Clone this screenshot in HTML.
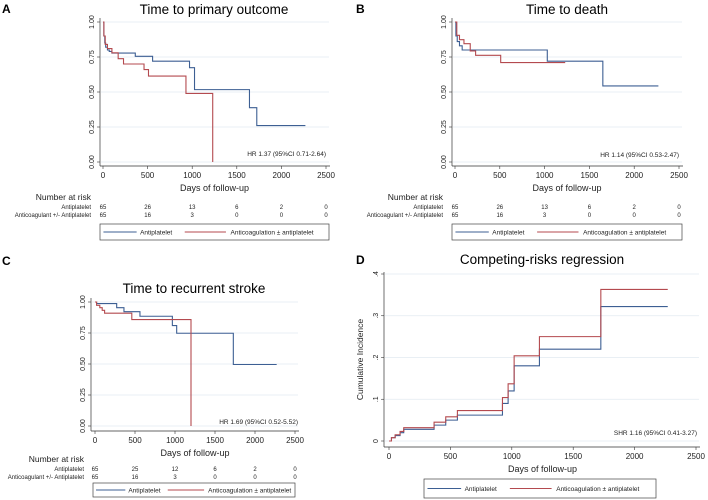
<!DOCTYPE html>
<html><head><meta charset="utf-8"><style>
html,body{margin:0;padding:0;background:#fff;}
svg{display:block;font-family:"Liberation Sans",Arial,sans-serif;}
</style></head><body>
<svg id="fig" width="708" height="500" viewBox="0 0 708 500"></svg>
<script>
// ---- Data ----
const xTicks = [0, 500, 1000, 1500, 2000, 2500];
const kmTicks = ["0.00", "0.25", "0.50", "0.75", "1.00"];
const kmTickVals = [0, 0.25, 0.5, 0.75, 1];
const ciTicks = ["0", ".1", ".2", ".3", ".4"];
const ciTickVals = [0, 0.1, 0.2, 0.3, 0.4];

const aBlueT = [0, 10, 20, 30, 50, 70, 100, 362, 556, 970, 1026, 1642, 1724];
const aBlueS = [1, 0.9, 0.85, 0.82, 0.8, 0.79, 0.778, 0.755, 0.72, 0.674, 0.517, 0.388, 0.26];
const aRedT = [0, 10, 25, 50, 100, 170, 230, 460, 510, 930, 1230];
const aRedS = [1, 0.9, 0.84, 0.81, 0.78, 0.738, 0.70, 0.66, 0.614, 0.49, 0];
const aRedEnd = 1230, aBlueEnd = 2269;

const bBlueT = [0, 10, 25, 50, 80, 1030, 1650];
const bBlueS = [1, 0.9, 0.86, 0.83, 0.8, 0.72, 0.543];
const bRedT = [0, 20, 50, 100, 170, 230, 510];
const bRedS = [1, 0.905, 0.874, 0.845, 0.793, 0.762, 0.71];
const bRedEnd = 1230, bBlueEnd = 2270;

const cBlueT = [0, 20, 271, 362, 562, 967, 1021, 1729];
const cBlueS = [1, 0.987, 0.954, 0.922, 0.885, 0.81, 0.748, 0.496];
const cRedT = [0, 20, 60, 90, 120, 460, 1200];
const cRedS = [1, 0.973, 0.954, 0.933, 0.91, 0.858, 0];
const cRedEnd = 1200, cBlueEnd = 2271;

const dBlueT = [0, 20, 50, 90, 120, 367, 462, 557, 924, 970, 1019, 1225, 1725];
const dBlueS = [0, 0.008, 0.013, 0.02, 0.028, 0.038, 0.05, 0.062, 0.09, 0.12, 0.18, 0.22, 0.322];
const dRedT = [0, 20, 50, 90, 120, 367, 462, 557, 924, 970, 1019, 1225, 1725];
const dRedS = [0, 0.008, 0.015, 0.023, 0.032, 0.045, 0.058, 0.073, 0.104, 0.137, 0.204, 0.25, 0.363];
const dEnd = 2270;

const riskA1 = ["65","26","13","6","2","0"], riskA2 = ["65","16","3","0","0","0"];
const riskC1 = ["65","25","12","6","2","0"], riskC2 = ["65","16","3","0","0","0"];

const BLUE = "#3d5f93", RED = "#b44a4f", GRID = "#e2eaf0", AX = "#333";
const svg = document.getElementById('fig');
const NS = "http://www.w3.org/2000/svg";
function mk(tag, attrs, parent, text) {
  const e = document.createElementNS(NS, tag);
  for (const k in attrs) e.setAttribute(k, attrs[k]);
  if (text !== undefined) e.textContent = text;
  (parent || svg).appendChild(e);
  return e;
}

function panel(cfg) {
  const g = mk('g', {});
  
  
  const xs = v => cfg.x0 + (cfg.x1 - cfg.x0) * v / 2500;
  const ys = v => cfg.yb + (cfg.yt - cfg.yb) * (v - cfg.vmin) / (cfg.vmax - cfg.vmin);
  const lt = mk('text', {x: cfg.lx, y: cfg.ly, 'font-size': 12, 'font-weight': 'bold', fill: '#000'}, g, cfg.letter);
   
  const tt = mk('text', {x: cfg.tx, y: cfg.ty, 'font-size': 13.5, 'text-anchor': 'middle', fill: '#000'}, g, cfg.title);
   
  cfg.tickVals.forEach((v, i) => {
    const y = ys(v);
    const gl = mk('line', {x1: cfg.ax + 1, x2: xs(2500) + 3, y1: y, y2: y, stroke: GRID, 'stroke-width': 0.8}, g);
     
    mk('line', {x1: cfg.ax - 3, x2: cfg.ax, y1: y, y2: y, stroke: AX, 'stroke-width': 0.6}, g);
    const tl = mk('text', {x: cfg.ax - 6, y: y, 'font-size': 7, 'text-anchor': 'middle', fill: '#222',
      transform: `rotate(-90 ${cfg.ax - 6} ${y})`}, g, cfg.tickLabels[i]);
     
  });
  const ya = mk('line', {x1: cfg.ax, x2: cfg.ax, y1: cfg.axTop, y2: cfg.axBot, stroke: AX, 'stroke-width': 0.7}, g);
   
  const xa = mk('line', {x1: cfg.ax, x2: xs(2500) + 4, y1: cfg.axBot, y2: cfg.axBot, stroke: AX, 'stroke-width': 0.7}, g);
   
  xTicks.forEach(v => {
    mk('line', {x1: xs(v), x2: xs(v), y1: cfg.axBot, y2: cfg.axBot + 3, stroke: AX, 'stroke-width': 0.6}, g);
    const xl = mk('text', {x: xs(v), y: cfg.axBot + 12, 'font-size': 8, 'text-anchor': 'middle', fill: '#222'}, g, String(v));
     
  });
  const xt = mk('text', {x: (xs(0) + xs(2500)) / 2, y: cfg.axBot + 25, 'font-size': 9, 'text-anchor': 'middle', fill: '#222'}, g, 'Days of follow-up');
   
  if (cfg.ytitle) {
    const yt = mk('text', {x: cfg.ytx, y: (cfg.axTop + cfg.axBot) / 2, 'font-size': 8.5, 'text-anchor': 'middle', fill: '#222',
      transform: `rotate(-90 ${cfg.ytx} ${(cfg.axTop + cfg.axBot) / 2})`}, g, cfg.ytitle);
     
  }
  function step(T, S, end, color, name) {
    let d = `M${xs(T[0])},${ys(S[0])}`;
    for (let i = 1; i < T.length; i++) d += ` H${xs(T[i])} V${ys(S[i])}`;
    d += ` H${xs(end)}`;
    const p = mk('path', {d, fill: 'none', stroke: color, 'stroke-width': 1.1}, g);
     
  }
  step(cfg.bT, cfg.bS, cfg.bEnd, BLUE, 'antiplatelet-curve');
  step(cfg.rT, cfg.rS, cfg.rEnd, RED, 'anticoagulation-curve');
  const hr = mk('text', {x: cfg.hrx, y: cfg.hry, 'font-size': 6.5, 'text-anchor': 'end', fill: '#222'}, g, cfg.hr);
   
  if (cfg.r1) {
    const nr = mk('text', {x: cfg.riskLabX, y: cfg.riskY, 'font-size': 8.5, 'text-anchor': 'end', fill: '#222'}, g, 'Number at risk');
     
    [[cfg.r1, 'Antiplatelet'], [cfg.r2, 'Anticoagulant +/- Antiplatelet']].forEach((row, ri) => {
      const y = cfg.riskY + 9 + ri * 8;
      const rl = mk('text', {x: cfg.riskLabX, y, 'font-size': 6, 'text-anchor': 'end', fill: '#222'}, g, row[1]);
       
      row[0].forEach((n, i) => {
        const t = mk('text', {x: xs(xTicks[i]), y, 'font-size': 6, 'text-anchor': 'middle', fill: '#222'}, g, n);
         
      });
    });
  }
  const L = cfg.leg;
  const lg = mk('g', {}, g);
   
  mk('rect', {x: L.x, y: L.y, width: L.w, height: L.h, fill: '#fff', stroke: '#444', 'stroke-width': 0.7}, lg);
  const my = L.y + L.h / 2;
  const w = L.w;
  mk('line', {x1: L.x + w * 0.015, x2: L.x + w * 0.16, y1: my, y2: my, stroke: BLUE, 'stroke-width': 1.1}, lg);
  const e1 = mk('text', {x: L.x + w * 0.175, y: my + 2.3, 'font-size': 6.5, fill: '#222'}, lg, 'Antiplatelet');
   
  mk('line', {x1: L.x + w * 0.37, x2: L.x + w * 0.55, y1: my, y2: my, stroke: RED, 'stroke-width': 1.1}, lg);
  const e2 = mk('text', {x: L.x + w * 0.57, y: my + 2.3, 'font-size': 6.5, fill: '#222'}, lg, 'Anticoagulation \u00b1 antiplatelet');
   
}

panel({name: 'panel-a', letter: 'A', lx: 2, ly: 13, title: 'Time to primary outcome', tx: 214, ty: 14,
  x0: 103, x1: 326, yt: 22, yb: 162, vmin: 0, vmax: 1, ax: 100, axTop: 18, axBot: 166,
  tickVals: kmTickVals, tickLabels: kmTicks,
  bT: aBlueT, bS: aBlueS, bEnd: aBlueEnd, rT: aRedT, rS: aRedS, rEnd: aRedEnd,
  hr: 'HR 1.37 (95%CI 0.71-2.64)', hrx: 326, hry: 156,
  r1: riskA1, r2: riskA2, riskLabX: 91, riskY: 200,
  leg: {x: 100, y: 224, w: 229, h: 16}});
panel({name: 'panel-b', letter: 'B', lx: 356, ly: 13, title: 'Time to death', tx: 567, ty: 14,
  x0: 455, x1: 679, yt: 22, yb: 162, vmin: 0, vmax: 1, ax: 452, axTop: 18, axBot: 166,
  tickVals: kmTickVals, tickLabels: kmTicks,
  bT: bBlueT, bS: bBlueS, bEnd: bBlueEnd, rT: bRedT, rS: bRedS, rEnd: bRedEnd,
  hr: 'HR 1.14 (95%CI 0.53-2.47)', hrx: 679, hry: 157,
  r1: riskA1, r2: riskA2, riskLabX: 443, riskY: 200,
  leg: {x: 452, y: 224, w: 230, h: 16}});
panel({name: 'panel-c', letter: 'C', lx: 2, ly: 265, title: 'Time to recurrent stroke', tx: 194, ty: 293,
  x0: 95, x1: 295, yt: 302, yb: 426, vmin: 0, vmax: 1, ax: 91, axTop: 298, axBot: 431,
  tickVals: kmTickVals, tickLabels: kmTicks,
  bT: cBlueT, bS: cBlueS, bEnd: cBlueEnd, rT: cRedT, rS: cRedS, rEnd: cRedEnd,
  hr: 'HR 1.69 (95%CI 0.52-5.52)', hrx: 298, hry: 424,
  r1: riskC1, r2: riskC2, riskLabX: 84, riskY: 462,
  leg: {x: 93, y: 483, w: 202, h: 14}});
panel({name: 'panel-d', letter: 'D', lx: 356, ly: 264, title: 'Competing-risks regression', tx: 542, ty: 264,
  x0: 389, x1: 696, yt: 274, yb: 441, vmin: 0, vmax: 0.4, ax: 384, axTop: 272, axBot: 447,
  tickVals: ciTickVals, tickLabels: ciTicks, ytitle: 'Cumulative Incidence', ytx: 363,
  bT: dBlueT, bS: dBlueS, bEnd: dEnd, rT: dRedT, rS: dRedS, rEnd: dEnd,
  hr: 'SHR 1.16 (95%CI 0.41-3.27)', hrx: 697, hry: 435,
  leg: {x: 424, y: 479, w: 232, h: 19}});
</script>
</body></html>
